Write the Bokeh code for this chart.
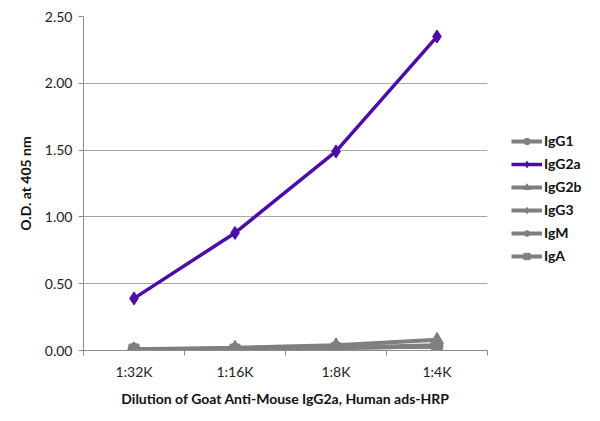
import numpy as np
from bokeh.plotting import figure
from bokeh.models import FixedTicker, Legend, LegendItem, NumeralTickFormatter
from bokeh.embed import file_html
from bokeh.resources import INLINE

dilutions = ["1:32K", "1:16K", "1:8K", "1:4K"]
igg1 = [0.01, 0.01, 0.02, 0.03]
igg2a = [0.39, 0.88, 1.49, 2.35]
igg2b = [0.01, 0.02, 0.04, 0.08]
igg3 = [0.01, 0.01, 0.02, 0.04]
igm = [0.00, 0.01, 0.02, 0.03]
iga = [0.01, 0.01, 0.02, 0.03]
y_ticks = [0.0, 0.5, 1.0, 1.5, 2.0, 2.5]

FONT = "Lato"
GRAY = "#7f7f7f"
PURPLE = "#4b0ca8"

x = list(np.arange(len(dilutions)) + 0.5)

p = figure(output_backend="svg", toolbar_location=None,
           x_range=(0, len(dilutions)), y_range=(0, 2.5),
           frame_width=404, frame_height=334,
           min_border_left=83, min_border_top=16, min_border_bottom=10, min_border_right=5)
p.outline_line_color = None
p.xgrid.grid_line_color = None
p.ygrid.grid_line_color = "#a8a8a8"
p.ygrid.grid_line_width = 1

p.xaxis.ticker = FixedTicker(ticks=x, minor_ticks=list(range(len(dilutions) + 1)))
p.xaxis.major_label_overrides = {float(v): d for v, d in zip(x, dilutions)}
p.xaxis.minor_tick_in = 0
p.xaxis.minor_tick_out = 5
p.xaxis.minor_tick_line_color = "#8c8c8c"
p.yaxis.ticker = FixedTicker(ticks=y_ticks)
p.yaxis.formatter = NumeralTickFormatter(format="0.00")
p.yaxis.major_tick_in = 0
p.yaxis.major_tick_out = 5
p.yaxis.minor_tick_line_color = None
for ax in (p.xaxis, p.yaxis):
    ax.axis_line_color = "#8c8c8c"
    ax.major_label_text_font = FONT
    ax.major_label_text_font_size = "14px"
    ax.major_label_text_color = "#222222"
    ax.axis_label_text_font = FONT
    ax.axis_label_text_font_size = "14px"
    ax.axis_label_text_font_style = "bold"
    ax.axis_label_text_color = "#111111"
p.yaxis.major_tick_line_color = "#8c8c8c"
p.xaxis.major_tick_line_color = None
p.xaxis.major_label_standoff = 6
p.xaxis.axis_label_standoff = 7
p.yaxis.major_label_standoff = 6
p.yaxis.axis_label_standoff = 8
p.xaxis.axis_label = "Dilution of Goat Anti-Mouse IgG2a, Human ads-HRP"
p.yaxis.axis_label = "O.D. at 405 nm"

items = []
def add(name, ys, marker, color, size, lw):
    r = p.line(x, ys, line_color=color, line_width=lw)
    m = p.scatter(x, ys, marker=marker, size=size, fill_color=color, line_color=color,
                  line_width=2 if marker == "asterisk" else 1)
    items.append(LegendItem(label=name, renderers=[r, m]))

add("IgG1", igg1, "circle", GRAY, 12, 4)
add("IgG2b", igg2b, "triangle", GRAY, 13, 4)
add("IgG3", igg3, "diamond", GRAY, 12, 4)
add("IgM", igm, "asterisk", GRAY, 11, 4)
add("IgA", iga, "square", GRAY, 10, 4)
add("IgG2a", igg2a, "diamond", PURPLE, 13, 3.5)
order = ["IgG1", "IgG2a", "IgG2b", "IgG3", "IgM", "IgA"]
items = sorted(items, key=lambda it: order.index(it.label.value))

legend = Legend(items=items, location=(24, 86), border_line_color=None,
                background_fill_alpha=0, label_text_font=FONT,
                label_text_font_size="14px", label_text_font_style="bold",
                label_text_color="#111111", glyph_width=31, glyph_height=16,
                spacing=6, label_standoff=2, padding=0, margin=0)
p.add_layout(legend, "right")

open("out.html", "w").write(file_html(p, INLINE))
